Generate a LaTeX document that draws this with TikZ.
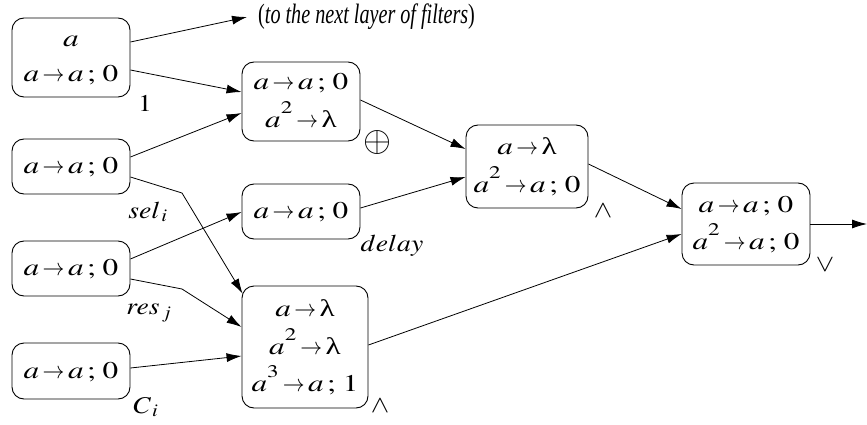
\documentclass[tikz,border=0pt]{standalone}
\usepackage{mathptmx}
\usepackage[no-math]{fontspec}
\setmainfont{Liberation Serif}
\usepackage{graphicx}
\usetikzlibrary{arrows.meta,calc}
\newcommand\hx[1]{\scalebox{1.15}[1]{$#1$}}
\newcommand\hs[1]{\strut\scalebox{1.3}[1]{$#1$}}
\newcommand\lam{\mbox{λ}}
\newcommand\sq[1]{^{\raisebox{0.22em}{$\scriptstyle #1$}}}
\newcommand\rr{\mathord{\mkern2mu\scalebox{0.7}[1]{$\to$}\mkern2mu}}
\tikzset{
  box/.style={draw, rounded corners=12pt, line width=0.9pt, align=center,
    inner sep=0pt, font=\fontsize{24}{35}\selectfont},
  lbl/.style={inner sep=0pt, font=\fontsize{24}{26}\selectfont},
  conn/.style={line width=0.8pt, -{Latex[length=15pt,width=9pt]}},
}
\begin{document}
\begin{tikzpicture}[x=1pt,y=-1pt]
\useasboundingbox (0,0) rectangle (867,425);
% boxes
\node[box, minimum width=118pt, minimum height=79pt] (A) at (71,57.5) {\hs{a}\\\hs{a\rr a\,;\,0}};
\node[box, minimum width=118pt, minimum height=55pt] (B) at (71,166.5) {\hs{a\rr a\,;\,0}};
\node[box, minimum width=118pt, minimum height=55pt] (C) at (71,268.5) {\hs{a\rr a\,;\,0}};
\node[box, minimum width=118pt, minimum height=56pt] (D) at (71,371) {\hs{a\rr a\,;\,0}};
\node[box, minimum width=118pt, minimum height=79pt] (E) at (301,101.5) {\hs{a\rr a\,;\,0}\\\hs{a\sq{2}\rr \lam}};
\node[box, minimum width=118pt, minimum height=55pt] (F) at (301,211.5) {\hs{a\rr a\,;\,0}};
\node[box, minimum width=126pt, minimum height=122pt] (G) at (305,347) {\hs{a\rr \lam}\\\hs{a\sq{2}\rr \lam}\\\hs{a\sq{3}\rr a\,;\,1}};
\node[box, minimum width=122pt, minimum height=83pt] (H) at (527,166.5) {\hs{a\rr \lam}\\\hs{a\sq{2}\rr a\,;\,0}};
\node[box, minimum width=128pt, minimum height=82pt] (I) at (746,224) {\hs{a\rr a\,;\,0}\\\hs{a\sq{2}\rr a\,;\,0}};
% top text
\node[inner sep=0pt, anchor=west, font=\fontsize{28}{30}\selectfont] (T) at (258,17) {\scalebox{0.72}[1]{(\textit{to the next layer of filters})}};
% labels
\node[lbl] (l1) at (145,103) {\hx{1}};
\node[lbl] (lsel) at (148,212) {\hx{sel_{\,i}}};
\node[lbl] (lres) at (149,313) {\hx{res_{\,j}}};
\node[lbl] (lC) at (146,407) {\hx{C_{\,i}}};
\node[lbl] (lop) at (377,142) {\scalebox{1.5}{$\oplus$}};
\node[lbl] (ldel) at (392,246) {\hx{delay}};
\node[lbl] (lw1) at (380,406) {\hx{\wedge}};
\node[lbl] (lw2) at (603,211) {\hx{\wedge}};
\node[lbl] (lv) at (825,265) {\hx{\vee}};
% bend points
\coordinate (k1) at (182,193);
\coordinate (k2) at (182,289);
\coordinate (out) at (867,224);
% connectors
\draw[conn] ([yshift=15.5pt]A.east) -- ([xshift=-11pt]T.west);
\draw[conn] ([yshift=-12.5pt]A.east) -- ([yshift=9.5pt]E.west);
\draw[conn] ([yshift=9.5pt]B.east) -- ([yshift=-11.5pt]E.west);
\draw[conn] ([yshift=-10.5pt]B.east) -- (k1) -- ([xshift=1pt,yshift=-8pt]G.north west);
\draw[conn] ([yshift=9.5pt]C.east) -- ([yshift=-0.5pt]F.west);
\draw[conn] ([yshift=-10.5pt]C.east) -- (k2) -- ([yshift=20pt]G.west);
\draw[conn] ([yshift=3pt]D.east) -- ([yshift=-9pt]G.west);
\draw[conn] ([yshift=1.5pt]E.east) -- ([yshift=17.5pt]H.west);
\draw[conn] ([yshift=3.5pt]F.east) -- ([yshift=-10.5pt]H.west);
\draw[conn] ([yshift=2.5pt]H.east) -- ([yshift=15pt]I.west);
\draw[conn] ([yshift=2pt]G.east) -- ([yshift=-10pt]I.west);
\draw[conn] (I.east) -- (out);
\end{tikzpicture}
\end{document}
